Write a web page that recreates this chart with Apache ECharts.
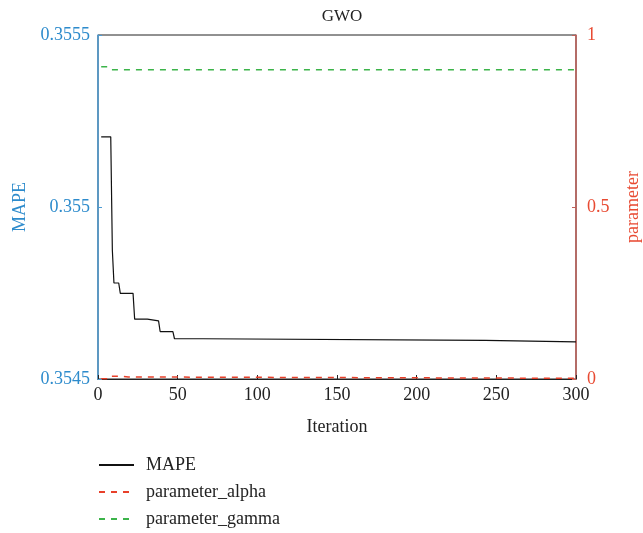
<!DOCTYPE html>
<html><head><meta charset="utf-8">
<script src="https://cdn.jsdelivr.net/npm/echarts@6/dist/echarts.min.js"></script>
<style>html,body{margin:0;padding:0;background:#fff}#c{width:643px;height:533px}</style>
</head><body><div id="c"></div>
<script>
// MAPE breakpoints (iteration, value)
const mapeIter = [2, 8, 9, 10, 13, 14, 22, 23, 31, 32, 38, 39, 47, 48, 66, 67, 243, 244, 300];
const mapeVal  = [0.355204, 0.355204, 0.354875, 0.354779, 0.354779, 0.354749, 0.354749, 0.354674, 0.354674, 0.354669, 0.354669, 0.354638, 0.354638, 0.354617, 0.354617, 0.354612, 0.354612, 0.354608, 0.354608];
const alphaIter = [2, 7, 8, 13, 14, 19, 20, 300];
const alphaVal  = [0.001, 0.001, 0.008, 0.008, 0.006, 0.006, 0.002, 0.002];
const gammaIter = [2, 6, 8, 300];
const gammaVal  = [0.908, 0.908, 0.899, 0.899];
const xTicks = [0, 50, 100, 150, 200, 250, 300];
const leftTicks = [0.3545, 0.355, 0.3555];
const rightTicks = [0, 0.5, 1];

const font = 'Liberation Serif';
const blueT = '#2d8bcc', blueL = '#4d9bd3', redT = '#e84a32', redL = '#c0605a';
const zip = (a, b) => a.map((x, i) => [x, b[i]]);

const chart = echarts.init(document.getElementById('c'));
chart.setOption({
  animation: false,
  backgroundColor: '#fff',
  title: { text: 'GWO', left: 337, top: 3, textAlign: 'center',
    textStyle: { fontFamily: font, fontSize: 17, fontWeight: 'normal', color: '#222' } },
  grid: { left: 98, right: 67, top: 35, bottom: 154, show: true, borderColor: '#222', borderWidth: 1,
    containLabel: false, outerBoundsMode: 'none' },
  legend: {
    orient: 'vertical', left: 98, top: 456, height: 80, padding: 0,
    itemWidth: 35, itemHeight: 14, itemGap: 9,
    itemStyle: { opacity: 0 },
    textStyle: { fontFamily: font, fontSize: 18, lineHeight: 18, color: '#222', padding: [0, 0, 0, 7] },
    data: ['MAPE', 'parameter_alpha', 'parameter_gamma']
  },
  xAxis: {
    type: 'value', min: 0, max: 300, interval: 50,
    name: 'Iteration', nameLocation: 'middle', nameGap: 39,
    nameTextStyle: { fontFamily: font, fontSize: 18, color: '#222' },
    axisLine: { lineStyle: { color: '#222', width: 1 } },
    axisTick: { inside: true, length: 4, lineStyle: { color: '#222' } },
    axisLabel: { fontFamily: font, fontSize: 18, color: '#222', margin: 7 },
    splitLine: { show: false }
  },
  yAxis: [{
    type: 'value', min: 0.3545, max: 0.3555, interval: 0.0005, position: 'left',
    name: 'MAPE', nameLocation: 'middle', nameGap: 67, nameRotate: 90,
    nameTextStyle: { fontFamily: font, fontSize: 18, color: blueT },
    axisLine: { show: true, lineStyle: { color: blueL, width: 1.5 } },
    axisTick: { inside: true, length: 4, lineStyle: { color: blueL } },
    axisLabel: { fontFamily: font, fontSize: 18, color: blueT, margin: 8,
      formatter: v => String(parseFloat(v.toFixed(4))) },
    splitLine: { show: false }
  }, {
    type: 'value', min: 0, max: 1, interval: 0.5, position: 'right',
    name: 'parameter', nameLocation: 'middle', nameGap: 48, nameRotate: 90,
    nameTextStyle: { fontFamily: font, fontSize: 18, color: redT },
    axisLine: { show: true, lineStyle: { color: redL, width: 1.5 } },
    axisTick: { inside: true, length: 4, lineStyle: { color: redL } },
    axisLabel: { fontFamily: font, fontSize: 18, color: redT, margin: 11,
      formatter: v => String(parseFloat(v.toFixed(2))) },
    splitLine: { show: false }
  }],
  series: [{
    name: 'MAPE', type: 'line', yAxisIndex: 0, showSymbol: false, symbol: 'none',
    data: zip(mapeIter, mapeVal), itemStyle: { color: '#111' },
    lineStyle: { color: '#111', width: 1.2 }, z: 3
  }, {
    name: 'parameter_alpha', type: 'line', yAxisIndex: 1, showSymbol: false, symbol: 'none',
    data: zip(alphaIter, alphaVal), itemStyle: { color: '#e8402a' },
    lineStyle: { color: '#e8402a', width: 1.5, type: [6, 6] }, z: 4
  }, {
    name: 'parameter_gamma', type: 'line', yAxisIndex: 1, showSymbol: false, symbol: 'none',
    data: zip(gammaIter, gammaVal), itemStyle: { color: '#3cb44a' },
    lineStyle: { color: '#3cb44a', width: 1.5, type: [6, 6] }, z: 4
  }]
});
</script></body></html>
